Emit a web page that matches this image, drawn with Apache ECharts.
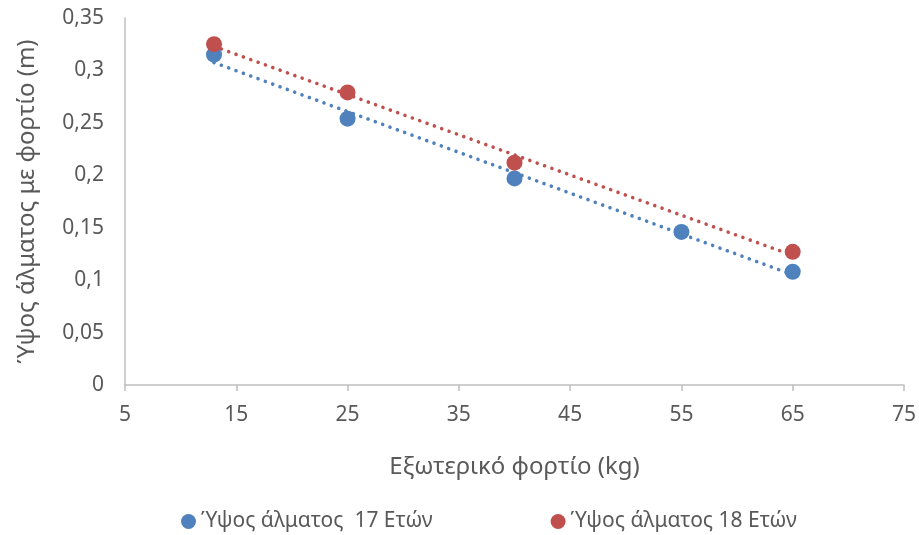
<!DOCTYPE html>
<html>
<head>
<meta charset="utf-8">
<script src="https://cdn.jsdelivr.net/npm/echarts@6/dist/echarts.min.js"></script>
<style>html,body{margin:0;padding:0;background:#fff}#c{width:919px;height:535px}</style>
</head>
<body>
<div id="c"></div>
<script>
// External load (kg) and jump height (m) per age group
const load17 = [13, 25, 40, 55, 65];
const height17 = [0.315, 0.254, 0.197, 0.146, 0.108];
const load18 = [13, 25, 40, 65];
const height18 = [0.325, 0.279, 0.212, 0.127];

const name17 = 'Ύψος άλματος  17 Ετών';
const name18 = 'Ύψος άλματος 18 Ετών';
const xTitle = 'Εξωτερικό φορτίο (kg)';
const yTitle = 'Ύψος άλματος με φορτίο (m)';

const blue = '#4F81BD';
const red = '#C0504D';
const font = '"Noto Sans", sans-serif';
const textGrey = '#595959';
const axisGrey = '#BFBFBF';

function pairs(xs, ys) { return xs.map((x, i) => [x, ys[i]]); }

// Least-squares linear trendline across the range of the data
function trend(xs, ys) {
  const n = xs.length;
  const mx = xs.reduce((a, b) => a + b, 0) / n;
  const my = ys.reduce((a, b) => a + b, 0) / n;
  let sxy = 0, sxx = 0;
  for (let i = 0; i < n; i++) { sxy += (xs[i] - mx) * (ys[i] - my); sxx += (xs[i] - mx) ** 2; }
  const b = sxy / sxx, a = my - b * mx;
  const x0 = Math.min(...xs), x1 = Math.max(...xs);
  return [[x0, a + b * x0], [x1, a + b * x1]];
}

const comma = v => String(v).replace('.', ',');

const dotted = color => ({ color, width: 3.6, type: [0.01, 7.8], cap: 'round' });

const chart = echarts.init(document.getElementById('c'));
chart.setOption({
  animation: false,
  grid: { left: 125, right: 14, top: 18, bottom: 150 },
  xAxis: {
    type: 'value', min: 5, max: 75, interval: 10,
    name: xTitle, nameLocation: 'middle', nameGap: 70,
    nameTextStyle: { color: textGrey, fontSize: 24, fontFamily: font },
    axisLine: { show: true, lineStyle: { color: axisGrey, width: 1.5 } },
    axisTick: { show: true, inside: false, length: 6, lineStyle: { color: axisGrey, width: 1.5 } },
    axisLabel: { color: textGrey, fontSize: 21, fontFamily: font, margin: 20 },
    splitLine: { show: false }
  },
  yAxis: {
    type: 'value', min: 0, max: 0.35, interval: 0.05,
    name: yTitle, nameLocation: 'middle', nameGap: 86, nameRotate: 90,
    nameTextStyle: { color: textGrey, fontSize: 24, fontFamily: font },
    axisLine: { show: true, lineStyle: { color: axisGrey, width: 1.5 } },
    axisTick: { show: false },
    axisLabel: { color: textGrey, fontSize: 21, fontFamily: font, margin: 21, formatter: v => comma(+v.toFixed(2)) },
    splitLine: { show: false }
  },
  legend: {
    top: 506, left: 176, itemGap: 118,
    data: [name17, name18],
    icon: 'circle', itemWidth: 15, itemHeight: 15,
    textStyle: { color: textGrey, fontSize: 21, fontFamily: font }
  },
  series: [
    { type: 'line', data: trend(load17, height17), symbol: 'none', silent: true, z: 1, lineStyle: dotted(blue) },
    { type: 'line', data: trend(load18, height18), symbol: 'none', silent: true, z: 1, lineStyle: dotted(red) },
    {
      name: name17, type: 'scatter', data: pairs(load17, height17), z: 3,
      symbol: 'circle', symbolSize: 16, itemStyle: { color: blue, opacity: 1 }
    },
    {
      name: name18, type: 'scatter', data: pairs(load18, height18), z: 3,
      symbol: 'circle', symbolSize: 16, itemStyle: { color: red, opacity: 1 }
    }
  ]
});
</script>
</body>
</html>
